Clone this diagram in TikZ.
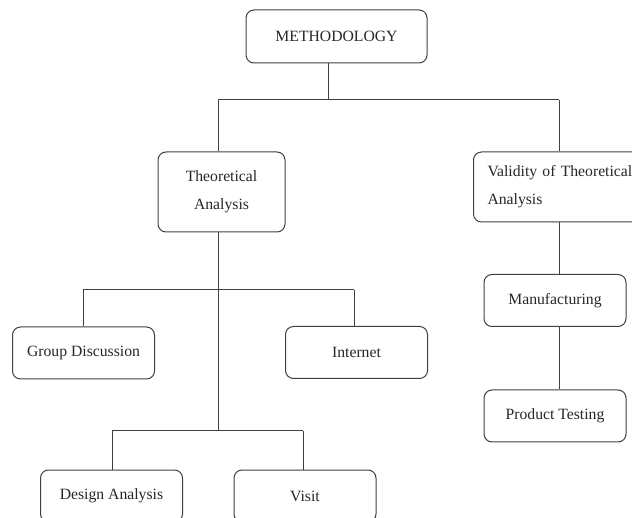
\documentclass[tikz,border=0pt]{standalone}
\usepackage{fontspec}
\setmainfont{Liberation Serif}
\usepackage{tikz}
\usetikzlibrary{positioning,calc}

\begin{document}
\begin{tikzpicture}[
  x=1pt, y=-1pt,
  font=\fontsize{15.7}{28}\selectfont,
  every node/.style={align=center},
  base/.style   = {draw=black!75, line width=1pt, rounded corners=8pt,
                   inner sep=0pt, text=black!85},
  topnd/.style  = {base, minimum width=181pt, minimum height=53pt},
  midnd/.style  = {base, minimum width=127pt, minimum height=80pt},
  valnd/.style  = {base, align=left, text width=190pt, inner xsep=14pt,
                   minimum height=70pt},
  leafnd/.style = {base, minimum width=142pt, minimum height=52pt},
  conn/.style   = {draw=black!75, line width=1pt}
]
\useasboundingbox (0,0) rectangle (632,518);
\clip (0,0) rectangle (632,518);

\node[topnd] (meth) at (336.5, 36.5) {METHODOLOGY};
\node[midnd] (theo) at (221.5, 192) {Theoretical\\Analysis};
\node[valnd, anchor=west] (valid) at (473, 187) {Validity of Theoretical\\Analysis};
\node[leafnd] (manuf) at (555, 300.5) {Manufacturing};
\node[leafnd] (prod) at (555, 416) {Product Testing};
\node[leafnd] (group) at (83.5, 353) {Group Discussion};
\node[leafnd] (inet) at (356.5, 352.5) {Internet};
\node[leafnd] (design) at (111.5, 496) {Design Analysis};
\node[leafnd] (visit) at (305, 496) {Visit};

% top split
\coordinate (methSplit) at (328, 100);
\coordinate (theoLink) at (218, 100);
\coordinate (validLink) at (559, 100);
\draw[conn] (meth.south -| methSplit) -- (methSplit);
\draw[conn] (theoLink) -- (validLink);
\draw[conn] (theoLink) -- (theoLink |- theo.north);
\draw[conn] (validLink) -- (validLink |- valid.north);

% theoretical analysis branches
\coordinate (upperSplit) at (218, 290);
\coordinate (lowerSplit) at (218, 431);
\coordinate (groupLink) at (83, 290);
\coordinate (inetLink) at (354, 290);
\coordinate (designLink) at (112, 431);
\coordinate (visitLink) at (303, 431);
\draw[conn] (theo.south -| lowerSplit) -- (lowerSplit);
\draw[conn] (groupLink) -- (inetLink);
\draw[conn] (groupLink) -- (groupLink |- group.north);
\draw[conn] (inetLink) -- (inetLink |- inet.north);
\draw[conn] (designLink) -- (visitLink);
\draw[conn] (designLink) -- (designLink |- design.north);
\draw[conn] (visitLink) -- (visitLink |- visit.north);

% validity chain
\draw[conn] (valid.south -| validLink) -- (validLink |- manuf.north);
\draw[conn] (manuf.south -| validLink) -- (validLink |- prod.north);
\end{tikzpicture}
\end{document}
